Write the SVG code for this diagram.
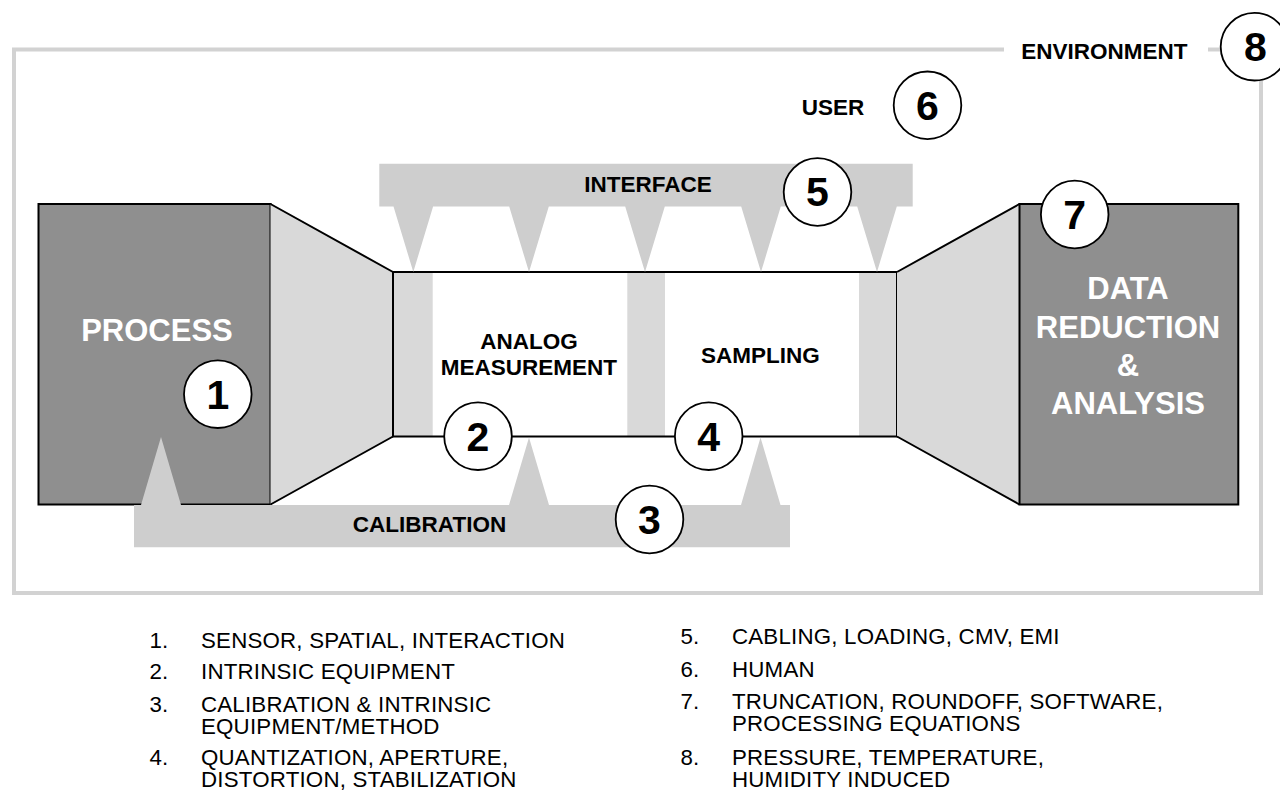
<svg xmlns="http://www.w3.org/2000/svg" width="1280" height="797" viewBox="0 0 1280 797">
  <style>
    .lbl { font-family: "Liberation Sans", Arial, sans-serif; font-weight: bold; font-size: 22.5px; fill: #000; }
    .big { font-family: "Liberation Sans", Arial, sans-serif; font-weight: bold; font-size: 31px; fill: #fff; text-anchor: middle; }
    .num { font-family: "Liberation Sans", Arial, sans-serif; font-weight: bold; font-size: 41px; fill: #000; text-anchor: middle; }
    .leg { font-family: "Liberation Sans", Arial, sans-serif; font-size: 22.3px; letter-spacing: 0.2px; fill: #000; }
    .circ { fill: #fff; stroke: #000; stroke-width: 1.8; }
    .edge { fill: none; stroke: #000; stroke-width: 2; }
    .frame { fill: none; stroke: #d2d2d2; stroke-width: 4; }
    .bar { fill: #cecece; }
    .light { fill: #d9d9d9; }
    .dark { fill: #8f8f8f; stroke: #000; stroke-width: 2; }
  </style>

  <!-- Environment frame -->
  <g id="environment">
    <path class="frame" d="M1004,49.5 H14 V593 H1261 V80"/>
    <path class="frame" d="M1208,49.5 H1222"/>
    <text class="lbl" x="1104.5" y="59" text-anchor="middle">ENVIRONMENT</text>
  </g>

  <!-- Process -->
  <g id="process">
    <rect class="dark" x="38.5" y="204" width="232" height="300.5"/>
    <text class="big" x="157" y="341">PROCESS</text>
  </g>

  <!-- Left transition -->
  <g id="transition-left">
    <polygon class="light" points="270.5,204 393,272 393,436.5 270.5,504.5"/>
    <path class="edge" d="M270.5,204 L393,272 M393,436.5 L270.5,504.5"/>
  </g>

  <!-- Measurement chain -->
  <g id="measurement-chain">
    <rect x="393" y="272" width="504" height="164.5" fill="#fff"/>
    <rect class="light" x="393" y="272" width="39.7" height="164.5"/>
    <rect class="light" x="627.3" y="272" width="37.7" height="164.5"/>
    <rect class="light" x="859" y="272" width="38" height="164.5"/>
    <path class="edge" d="M393,272 H897 M393,436.5 H897 M393,271 V437.5 M897,271 V437.5"/>
  </g>

  <g id="analog-measurement">
    <text class="lbl" text-anchor="middle"><tspan x="529" y="349">ANALOG</tspan><tspan x="529" y="375.3">MEASUREMENT</tspan></text>
  </g>

  <g id="sampling">
    <text class="lbl" x="760.4" y="362.7" text-anchor="middle">SAMPLING</text>
  </g>

  <!-- Right transition -->
  <g id="transition-right">
    <polygon class="light" points="897,272 1019.5,204 1019.5,504.5 897,436.5"/>
    <path class="edge" d="M897,272 L1019.5,204 M897,436.5 L1019.5,504.5"/>
  </g>

  <!-- Data reduction -->
  <g id="data-reduction">
    <rect class="dark" x="1019.5" y="204" width="218.8" height="300.5"/>
    <text class="big"><tspan x="1128" y="299.3">DATA</tspan><tspan x="1128" y="337.7">REDUCTION</tspan><tspan x="1128" y="375.5">&amp;</tspan><tspan x="1128" y="414.3">ANALYSIS</tspan></text>
  </g>

  <!-- Connectors: interface and calibration pointer bars -->
  <g id="connectors">
    <path id="interface-bar" class="bar" d="M379.3,163.7 H912.7 V206.5 H896.8 L877,272 L857.2,206.5 H780.8 L761,272 L741.2,206.5 H664.8 L645,272 L625.2,206.5 H548.8 L529,272 L509.2,206.5 H433.1 L413.3,272 L393.5,206.5 H379.3 Z"/>
    <path id="calibration-bar" class="bar" d="M134,547.3 V505 H141 L161,437 L181,505 H509 L529,437.5 L549,505 H741 L760.5,437.5 L780.5,505 H790 V547.3 Z"/>
  </g>

  <g id="interface">
    <text class="lbl" x="648" y="191.7" text-anchor="middle">INTERFACE</text>
  </g>

  <g id="calibration">
    <text class="lbl" x="429.5" y="531.7" text-anchor="middle">CALIBRATION</text>
  </g>

  <g id="user">
    <text class="lbl" x="833" y="115" text-anchor="middle">USER</text>
  </g>

  <!-- Numbered markers -->
  <g id="marker-1"><circle class="circ" cx="217.8" cy="394.2" r="33.8"/><text class="num" x="217.8" y="408.5">1</text></g>
  <g id="marker-2"><circle class="circ" cx="478" cy="436.2" r="33.8"/><text class="num" x="478" y="450.5">2</text></g>
  <g id="marker-3"><circle class="circ" cx="649.5" cy="519.5" r="33.8"/><text class="num" x="649.5" y="533.8">3</text></g>
  <g id="marker-4"><circle class="circ" cx="708.7" cy="436.2" r="33.8"/><text class="num" x="708.7" y="450.5">4</text></g>
  <g id="marker-5"><circle class="circ" cx="817.5" cy="192" r="33.8"/><text class="num" x="817.5" y="206.3">5</text></g>
  <g id="marker-6"><circle class="circ" cx="927.5" cy="105.3" r="33.8"/><text class="num" x="927.5" y="119.6">6</text></g>
  <g id="marker-7"><circle class="circ" cx="1074.7" cy="214.5" r="33.8"/><text class="num" x="1074.7" y="228.8">7</text></g>
  <g id="marker-8"><circle class="circ" cx="1254.5" cy="46.7" r="33.8"/><text class="num" x="1255.5" y="61">8</text></g>

  <!-- Legend -->
  <g id="legend">
    <text class="leg"><tspan x="149.5" y="648">1.</tspan><tspan x="201" y="648">SENSOR, SPATIAL, INTERACTION</tspan></text>
    <text class="leg"><tspan x="149.5" y="679">2.</tspan><tspan x="201" y="679">INTRINSIC EQUIPMENT</tspan></text>
    <text class="leg"><tspan x="149.5" y="711.5">3.</tspan><tspan x="201" y="711.5">CALIBRATION &amp; INTRINSIC</tspan><tspan x="201" y="733.5">EQUIPMENT/METHOD</tspan></text>
    <text class="leg"><tspan x="149.5" y="765">4.</tspan><tspan x="201" y="765">QUANTIZATION, APERTURE,</tspan><tspan x="201" y="787">DISTORTION, STABILIZATION</tspan></text>

    <text class="leg"><tspan x="680.5" y="644">5.</tspan><tspan x="732" y="644">CABLING, LOADING, CMV, EMI</tspan></text>
    <text class="leg"><tspan x="680.5" y="677">6.</tspan><tspan x="732" y="677">HUMAN</tspan></text>
    <text class="leg"><tspan x="680.5" y="708.5">7.</tspan><tspan x="732" y="708.5">TRUNCATION, ROUNDOFF, SOFTWARE,</tspan><tspan x="732" y="730.5">PROCESSING EQUATIONS</tspan></text>
    <text class="leg"><tspan x="680.5" y="765">8.</tspan><tspan x="732" y="765">PRESSURE, TEMPERATURE,</tspan><tspan x="732" y="787">HUMIDITY INDUCED</tspan></text>
  </g>
</svg>
